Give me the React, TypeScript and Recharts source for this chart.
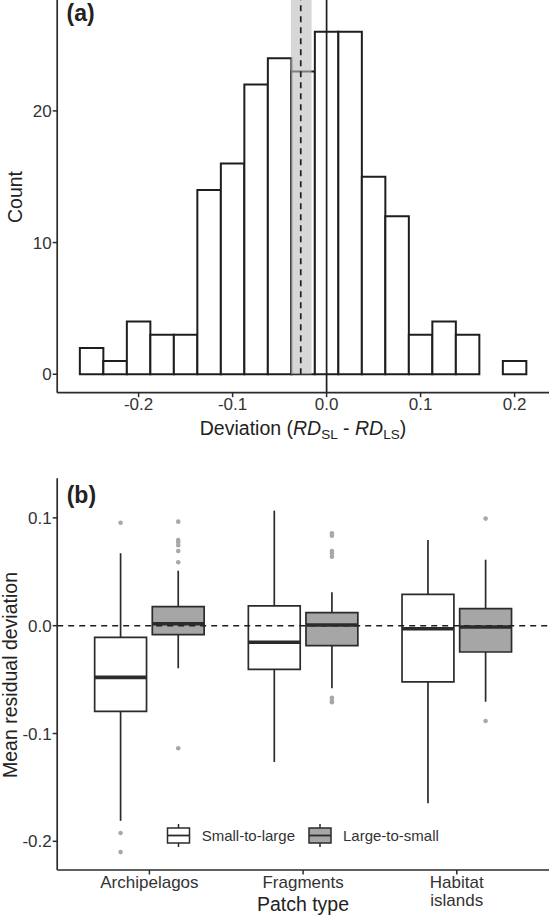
import React from "react";
import {
  ComposedChart,
  XAxis,
  YAxis,
  ReferenceArea,
  ReferenceLine,
  Scatter,
} from "recharts";

// (a) histogram of deviations
const binCenters = [
  -0.25, -0.225, -0.2, -0.175, -0.15, -0.125, -0.1, -0.075, -0.05, -0.025, 0,
  0.025, 0.05, 0.075, 0.1, 0.125, 0.15, 0.175, 0.2,
];
const binCounts = [2, 1, 4, 3, 3, 14, 16, 22, 24, 23, 26, 26, 15, 12, 3, 4, 3, 0, 1];
const binWidth = 0.025;
const meanDeviation = -0.0275;
const meanCiLow = -0.038;
const meanCiHigh = -0.016;
const histXTicks = [-0.2, -0.1, 0, 0.1, 0.2];
const histYTicks = [0, 10, 20];

// (b) boxplots by patch type
const patchTypes = ["Archipelagos", "Fragments", "Habitat islands"];
const directions = ["Small-to-large", "Large-to-small"];

const s2lLower = [-0.181, -0.1264, -0.1648];
const s2lQ1 = [-0.0794, -0.0405, -0.0522];
const s2lMedian = [-0.0479, -0.0154, -0.0028];
const s2lQ3 = [-0.0108, 0.0183, 0.0291];
const s2lUpper = [0.0672, 0.1067, 0.0795];
const s2lOutliers = [[0.0955, -0.1923, -0.21], [], []];

const l2sLower = [-0.0395, -0.058, -0.0705];
const l2sQ1 = [-0.0082, -0.0185, -0.0244];
const l2sMedian = [0.0018, 0.0007, -0.0012];
const l2sQ3 = [0.0176, 0.0121, 0.0158];
const l2sUpper = [0.051, 0.031, 0.0612];
const l2sOutliers = [
  [0.0965, 0.0795, 0.0775, 0.0746, 0.0693, 0.0588, -0.1137],
  [0.0857, 0.0835, 0.0693, 0.0672, 0.064, -0.0668, -0.0696, -0.071],
  [0.0993, -0.0884],
];
const boxYTicks = [-0.2, -0.1, 0, 0.1];

const INK = "#2b2b2b";
const TICK = "#333";
const FONT = '"Liberation Sans", Arial, Helvetica, sans-serif';
const DODGE = 0.1875;
const HALF_BOX = 0.16875;

const histX: [number, number] = [-0.2866, 0.2366];
const histY: [number, number] = [-1.4, 28.42];
const boxX: [number, number] = [0.4, 3.6];
const boxY: [number, number] = [-0.2266, 0.1367];

const histData = binCenters.map((c, i) => ({ x: c, y: binCounts[i] }));

const boxes = patchTypes.flatMap((_, i) => [
  {
    x: i + 1 - DODGE,
    fill: "#ffffff",
    lower: s2lLower[i],
    q1: s2lQ1[i],
    median: s2lMedian[i],
    q3: s2lQ3[i],
    upper: s2lUpper[i],
  },
  {
    x: i + 1 + DODGE,
    fill: "#a6a6a6",
    lower: l2sLower[i],
    q1: l2sQ1[i],
    median: l2sMedian[i],
    q3: l2sQ3[i],
    upper: l2sUpper[i],
  },
]);

const outlierPoints = patchTypes.flatMap((_, i) => [
  ...s2lOutliers[i].map((v) => ({ x: i + 1 - DODGE, y: v })),
  ...l2sOutliers[i].map((v) => ({ x: i + 1 + DODGE, y: v })),
]);

const fmt = (v: number) => (Math.abs(v) < 1e-9 ? "0.0" : v.toFixed(1));

function XTick({ x, y, payload, format }: any) {
  const label = format(payload.value);
  const lines = String(label).split(" ");
  return (
    <text x={x} y={y} textAnchor="middle" fill={TICK} fontSize={17} fontFamily={FONT}>
      {lines.map((l: string, k: number) => (
        <tspan key={k} x={x} dy={k === 0 ? "0.71em" : 18.3}>
          {l}
        </tspan>
      ))}
    </text>
  );
}

function YTick({ x, y, payload, format }: any) {
  return (
    <text x={x} y={y} dy="0.36em" textAnchor="end" fill={TICK} fontSize={17} fontFamily={FONT}>
      {format(payload.value)}
    </text>
  );
}

const axisLine = { stroke: INK, strokeWidth: 1.7 };
const tickLine = { stroke: INK, strokeWidth: 1.5 };

function LegendKey({ x, fill }: { x: number; fill: string }) {
  return (
    <g>
      <line x1={x + 11} x2={x + 11} y1={4} y2={27} stroke={INK} strokeWidth={1.5} />
      <rect x={x} y={8} width={22} height={15} fill={fill} stroke={INK} strokeWidth={1.5} />
      <line x1={x} x2={x + 22} y1={15.5} y2={15.5} stroke={INK} strokeWidth={1.8} />
    </g>
  );
}

export default function App() {
  return (
    <div
      style={{
        position: "absolute",
        left: 0,
        top: 0,
        width: 550,
        height: 918,
        background: "#fff",
        fontFamily: FONT,
        color: "#222",
      }}
    >
      {/* (a) */}
      <div style={{ position: "absolute", left: 0, top: 0 }}>
        <ComposedChart width={550} height={440} margin={{ top: 0, right: 1, bottom: 0, left: 0 }}>
          <XAxis
            type="number"
            dataKey="x"
            domain={histX}
            ticks={histXTicks}
            allowDataOverflow
            height={47.3}
            axisLine={axisLine}
            tickLine={tickLine}
            tickSize={4.5}
            tickMargin={1}
            tick={<XTick format={fmt} />}
          />
          <YAxis
            type="number"
            domain={histY}
            ticks={histYTicks}
            allowDataOverflow
            width={57.2}
            axisLine={axisLine}
            tickLine={tickLine}
            tickSize={4.5}
            tickMargin={1}
            tick={<YTick format={(v: number) => String(v)} />}
          />
          {histData.map((d) => (
            <ReferenceArea
              key={d.x}
              x1={d.x - binWidth / 2}
              x2={d.x + binWidth / 2}
              y1={0}
              y2={d.y}
              fill="#fff"
              fillOpacity={1}
              stroke="#1e1e1e"
              strokeWidth={2}
            />
          ))}
          <ReferenceArea
            x1={meanCiLow}
            x2={meanCiHigh}
            y1={0}
            y2={histY[1]}
            fill="#bdbdbd"
            fillOpacity={0.6}
            stroke="none"
          />
          <ReferenceLine
            segment={[
              { x: meanDeviation, y: 0 },
              { x: meanDeviation, y: histY[1] },
            ]}
            stroke="#1e1e1e"
            strokeWidth={1.7}
            strokeDasharray="6 5"
          />
          <ReferenceLine x={0} stroke="#1e1e1e" strokeWidth={1.7} />
          <Scatter data={histData} dataKey="y" shape={() => <g />} isAnimationActive={false} />
        </ComposedChart>
      </div>

      <div style={{ position: "absolute", left: 66.5, top: 1, fontSize: 23, fontWeight: "bold", lineHeight: 1.05 }}>
        (a)
      </div>
      <div
        style={{
          position: "absolute",
          left: 15.8,
          top: 196.7,
          transform: "translate(-50%,-50%) rotate(-90deg)",
          fontSize: 19.5,
          lineHeight: 1,
          whiteSpace: "nowrap",
        }}
      >
        Count
      </div>
      <div
        style={{
          position: "absolute",
          left: 57,
          width: 492,
          top: 418.5,
          textAlign: "center",
          fontSize: 19.5,
          lineHeight: 1,
          whiteSpace: "nowrap",
        }}
      >
        Deviation (<i>RD</i>
        <span style={{ fontSize: 13.5, position: "relative", top: 4 }}>SL</span> - <i>RD</i>
        <span style={{ fontSize: 13.5, position: "relative", top: 4 }}>LS</span>)
      </div>

      {/* (b) */}
      <div style={{ position: "absolute", left: 0, top: 440 }}>
        <ComposedChart width={550} height={478} margin={{ top: 38.3, right: 1, bottom: 0, left: 0 }}>
          <XAxis
            type="number"
            dataKey="x"
            domain={boxX}
            ticks={[1, 2, 3]}
            allowDataOverflow
            height={48}
            axisLine={axisLine}
            tickLine={tickLine}
            tickSize={4.5}
            tickMargin={1}
            tick={<XTick format={(v: number) => patchTypes[Math.round(v) - 1]} />}
          />
          <YAxis
            type="number"
            domain={boxY}
            ticks={boxYTicks}
            allowDataOverflow
            width={57.2}
            axisLine={axisLine}
            tickLine={tickLine}
            tickSize={4.5}
            tickMargin={1}
            tick={<YTick format={fmt} />}
          />
          <ReferenceLine y={0} stroke="#1e1e1e" strokeWidth={1.5} strokeDasharray="6 5" />
          {boxes.map((b) => (
            <React.Fragment key={b.x}>
              <ReferenceLine
                segment={[
                  { x: b.x, y: b.q3 },
                  { x: b.x, y: b.upper },
                ]}
                stroke={INK}
                strokeWidth={1.7}
              />
              <ReferenceLine
                segment={[
                  { x: b.x, y: b.q1 },
                  { x: b.x, y: b.lower },
                ]}
                stroke={INK}
                strokeWidth={1.7}
              />
              <ReferenceArea
                x1={b.x - HALF_BOX}
                x2={b.x + HALF_BOX}
                y1={b.q1}
                y2={b.q3}
                fill={b.fill}
                fillOpacity={1}
                stroke={INK}
                strokeWidth={1.7}
              />
              <ReferenceLine
                segment={[
                  { x: b.x - HALF_BOX, y: b.median },
                  { x: b.x + HALF_BOX, y: b.median },
                ]}
                stroke={INK}
                strokeWidth={3.6}
              />
            </React.Fragment>
          ))}
          <Scatter
            data={outlierPoints}
            dataKey="y"
            fill="#a8a8a8"
            shape={(p: any) => <circle cx={p.cx} cy={p.cy} r={2.3} fill="#a8a8a8" />}
            isAnimationActive={false}
          />
        </ComposedChart>
      </div>

      <div style={{ position: "absolute", left: 66.7, top: 482.5, fontSize: 23, fontWeight: "bold", lineHeight: 1.05 }}>
        (b)
      </div>
      <div
        style={{
          position: "absolute",
          left: 10.5,
          top: 675,
          transform: "translate(-50%,-50%) rotate(-90deg)",
          fontSize: 19.5,
          lineHeight: 1,
          whiteSpace: "nowrap",
        }}
      >
        Mean residual deviation
      </div>
      <div
        style={{
          position: "absolute",
          left: 57,
          width: 492,
          top: 894.5,
          textAlign: "center",
          fontSize: 19.5,
          lineHeight: 1,
          whiteSpace: "nowrap",
        }}
      >
        Patch type
      </div>

      <svg style={{ position: "absolute", left: 160, top: 820 }} width={290} height={32}>
        <LegendKey x={7.5} fill="#ffffff" />
        <text x={41.7} y={16} dy="0.36em" fontSize={15} fill={TICK} fontFamily={FONT}>
          {directions[0]}
        </text>
        <LegendKey x={149} fill="#a6a6a6" />
        <text x={183} y={16} dy="0.36em" fontSize={15} fill={TICK} fontFamily={FONT}>
          {directions[1]}
        </text>
      </svg>
    </div>
  );
}
